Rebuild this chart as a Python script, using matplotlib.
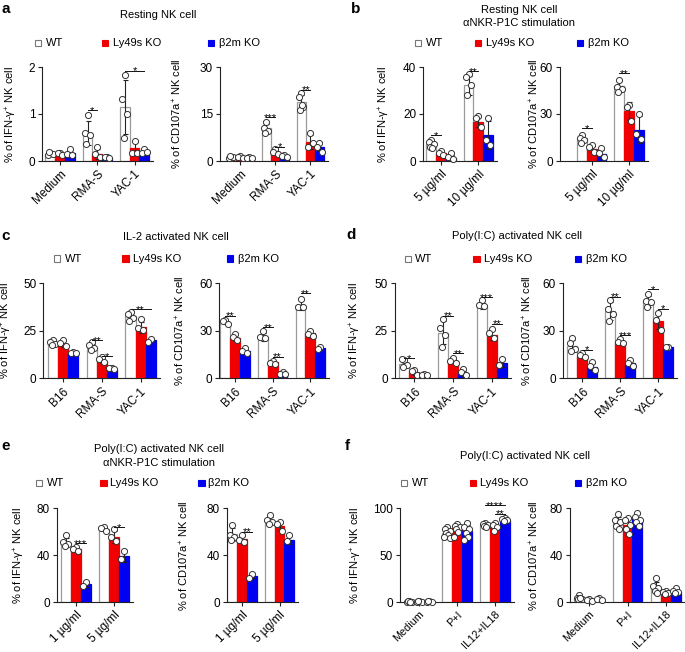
import numpy as np
import matplotlib
matplotlib.use("Agg")
import matplotlib.pyplot as plt
from matplotlib.patches import Rectangle

plt.rcParams['font.family'] = ['Liberation Sans', 'DejaVu Sans']
plt.rcParams['mathtext.fontset'] = 'custom'
plt.rcParams['mathtext.rm'] = 'Liberation Sans'
plt.rcParams['mathtext.it'] = 'Liberation Sans:italic'
plt.rcParams['mathtext.bf'] = 'Liberation Sans:bold'

# ---------------- data ----------------
series_names = ["WT", "Ly49s KO", "β2m KO"]
ylab_ifn = "% of IFN-γ$^{+}$ NK cell"
ylab_cd = "% of CD107a$^{+}$ NK cell"

# panel a (resting NK cell)
a_groups = ["Medium", "RMA-S", "YAC-1"]
a1_wt = [0.15, 0.60, 1.15]
a1_ly = [0.16, 0.15, 0.27]
a1_b2 = [0.16, 0.07, 0.20]
a1_wt_pts = [[0.17, 0.12, 0.15, 0.19], [0.97, 0.59, 0.55, 0.36], [1.84, 1.31, 1.00, 0.48]]
a1_ly_pts = [[0.18, 0.17, 0.13], [0.29, 0.15, 0.09], [0.42, 0.16, 0.18]]
a1_b2_pts = [[0.25, 0.15, 0.13], [0.09, 0.08, 0.07], [0.25, 0.18, 0.20]]
a1_sig = [(1, 0, 1, 1.08, "*"), (2, 0, 2, 1.92, "*")]

a2_wt = [1.0, 10.4, 18.8]
a2_ly = [1.2, 3.0, 6.1]
a2_b2 = [1.0, 1.6, 4.6]
a2_wt_pts = [[0.8, 1.0, 1.3, 1.5], [12.5, 10.6, 9.5, 9.0], [21.7, 20.5, 17.3, 16.4, 18.0]]
a2_ly_pts = [[1.5, 1.2, 0.9], [3.7, 3.0, 2.2], [8.8, 4.6, 5.6]]
a2_b2_pts = [[1.3, 1.0, 0.8], [1.9, 1.6, 1.4], [5.6, 4.6, 3.0]]
a2_sig = [(1, 0, 1, 13.9, "***"), (1, 1, 2, 4.6, "*"), (2, 0, 1, 22.8, "**")]

# panel b (resting NK, aNKR-P1C)
b_groups = ["5 µg/ml", "10 µg/ml"]
b1_wt = [7.2, 32.2]
b1_ly = [3.5, 16.7]
b1_b2 = [1.1, 11.0]
b1_wt_pts = [[8.9, 8.2, 7.2, 6.1, 5.4], [37.2, 35.8, 32.2, 28.0]]
b1_ly_pts = [[4.2, 3.5, 2.4], [19.1, 18.1, 14.6]]
b1_b2_pts = [[3.3, 1.8, 0.7], [18.1, 8.9, 6.6]]
b1_sig = [(0, 0, 1, 11.0, "*"), (1, 0, 1, 38.3, "**")]

b2_wt = [14.4, 47.7]
b2_ly = [7.6, 31.8]
b2_b2 = [4.4, 20.0]
b2_wt_pts = [[16.5, 14.8, 13.3, 11.2], [52.0, 47.0, 46.0, 44.0]]
b2_ly_pts = [[10.0, 9.0, 6.0], [36.0, 34.5, 25.6]]
b2_b2_pts = [[8.0, 4.9, 2.8], [30.0, 17.0, 14.0]]
b2_sig = [(0, 0, 1, 20.8, "*"), (1, 0, 1, 56.0, "**")]

# panel c (IL-2 activated)
c_groups = ["B16", "RMA-S", "YAC-1"]
c1_wt = [18.5, 16.5, 33.0]
c1_ly = [18.0, 9.3, 26.8]
c1_b2 = [13.5, 5.0, 20.2]
c1_wt_pts = [[20.0, 19.0, 18.0, 17.5], [19.0, 17.5, 16.0, 15.0], [35.0, 34.0, 32.0, 30.0]]
c1_ly_pts = [[20.0, 18.5, 17.0], [11.0, 10.0, 8.5], [31.0, 26.3, 25.2]]
c1_b2_pts = [[14.0, 13.5, 13.2], [5.5, 5.2, 5.0], [20.5, 19.0]]
c1_sig = [(1, 0, 1, 20.0, "**"), (1, 1, 2, 11.7, "*"), (2, 0, 2, 36.3, "**")]

c2_wt = [35.8, 26.3, 46.3]
c2_ly = [25.3, 10.1, 28.8]
c2_b2 = [17.5, 3.1, 19.0]
c2_wt_pts = [[37.0, 36.0, 34.0], [30.0, 26.0, 25.5], [50.0, 45.0, 45.0]]
c2_ly_pts = [[28.0, 26.0, 24.0], [11.0, 9.5, 9.0], [30.0, 28.0, 27.0]]
c2_b2_pts = [[19.0, 17.0, 16.0], [4.0, 3.0, 2.5], [20.0, 18.5]]
c2_sig = [(0, 0, 1, 39.5, "**"), (1, 0, 1, 32.2, "**"), (1, 1, 2, 13.6, "**"), (2, 0, 1, 53.7, "**")]

# panel d (Poly(I:C) activated)
d_groups = ["B16", "RMA-S", "YAC-1"]
d1_wt = [7.6, 24.1, 38.0]
d1_ly = [3.2, 9.1, 22.8]
d1_b2 = [2.1, 2.6, 8.2]
d1_wt_pts = [[9.6, 9.9, 7.0, 6.0], [31.0, 26.3, 22.8, 16.3], [41.0, 38.6, 38.0]]
d1_ly_pts = [[4.4, 3.7, 2.0], [10.5, 9.3, 8.0], [25.8, 24.0, 21.0]]
d1_b2_pts = [[2.3, 2.0, 1.6], [5.0, 3.5, 2.0], [10.4, 7.1]]
d1_sig = [(0, 0, 1, 10.5, "*"), (1, 0, 1, 33.0, "**"), (1, 1, 2, 13.2, "**"),
          (2, 0, 1, 42.6, "***"), (2, 1, 2, 28.6, "**")]

d2_wt = [20.4, 42.5, 48.8]
d2_ly = [14.1, 23.1, 36.4]
d2_b2 = [7.4, 9.5, 19.6]
d2_wt_pts = [[25.7, 22.0, 18.3, 17.0], [49.5, 43.6, 40.6, 36.4], [53.2, 49.0, 47.9, 44.8]]
d2_ly_pts = [[16.0, 15.0, 13.5], [24.7, 23.0, 22.0], [41.0, 36.6, 30.7]]
d2_b2_pts = [[10.0, 7.7, 5.5], [11.4, 9.5, 8.0], [19.6, 19.6]]
d2_sig = [(0, 1, 2, 17.9, "*"), (1, 0, 1, 51.6, "**"), (1, 1, 2, 27.3, "***"),
          (2, 0, 1, 56.2, "*"), (2, 1, 2, 43.8, "*")]

# panel e (Poly(I:C) activated, aNKR-P1C)
e_groups = ["1 µg/ml", "5 µg/ml"]
e1_wt = [50.8, 62.4]
e1_ly = [45.4, 55.9]
e1_b2 = [15.6, 39.4]
e1_wt_pts = [[57.0, 51.0, 50.0, 48.0], [64.0, 63.0, 61.0]]
e1_ly_pts = [[47.0, 45.0, 44.0], [62.0, 56.0, 52.0]]
e1_b2_pts = [[17.5, 14.0], [44.0, 37.0]]
e1_sig = [(0, 1, 2, 50.2, "***"), (1, 1, 2, 63.8, "*")]

e2_wt = [58.0, 69.5]
e2_ly = [53.6, 65.2]
e2_b2 = [22.4, 53.0]
e2_wt_pts = [[66.0, 57.0, 56.0, 53.0], [74.0, 70.0, 68.0, 67.0]]
e2_ly_pts = [[57.0, 53.0, 51.0], [68.0, 67.0, 61.0]]
e2_b2_pts = [[24.0, 21.0], [57.0, 52.0]]
e2_sig = [(0, 1, 2, 60.0, "**")]

# panel f (Poly(I:C) activated, cytokines)
f_groups = ["Medium", "P+I", "IL12+IL18"]
f1_wt = [0.8, 74.0, 82.2]
f1_ly = [0.8, 78.7, 79.8]
f1_b2 = [0.8, 76.0, 88.0]
f1_wt_pts = [[1.2, 0.8, 0.6, 0.9, 0.7], [80.0, 78.0, 76.0, 74.0, 72.0, 70.0, 68.0], [84.0, 83.0, 82.0, 81.0, 80.0]]
f1_ly_pts = [[1.0, 0.7, 0.8, 0.9], [83.0, 81.0, 80.0, 78.0, 75.0, 70.0], [84.0, 82.0, 80.0, 76.0]]
f1_b2_pts = [[1.0, 0.8, 0.6, 0.9], [84.0, 80.0, 78.0, 74.0, 70.0, 66.0], [90.0, 89.0, 88.0, 87.0]]
f1_sig = [(2, 0, 2, 103.5, "****"), (2, 1, 2, 94.0, "**")]

f2_wt = [4.0, 67.8, 12.0]
f2_ly = [2.0, 65.8, 7.5]
f2_b2 = [2.8, 71.0, 8.5]
f2_wt_pts = [[6.0, 4.0, 3.0, 2.5, 3.5], [75.0, 70.0, 68.0, 65.0, 62.0], [21.0, 14.0, 12.0, 10.0, 8.0]]
f2_ly_pts = [[3.0, 2.0, 1.5], [72.0, 70.0, 66.0, 62.0, 58.0], [10.0, 9.0, 8.0, 7.0]]
f2_b2_pts = [[4.0, 3.0, 2.0], [76.0, 73.0, 70.0, 68.0, 65.0], [12.0, 10.0, 9.0, 8.0]]
f2_sig = []

# ---------------- drawing ----------------
W, H = 685, 652
FS = 8
TFS = 8.5
fig = plt.figure(figsize=(W / 100, H / 100), dpi=100)

WT_FACE, WT_EDGE = "white", "#9a9a9a"
RED, BLUE = "#f00000", "#0000f0"
AXC = "#222222"
JITTER = [0.0, -0.065, 0.065, -0.03, 0.03, -0.085, 0.085]


def fx(x):
    return x / W


def fy(y):
    return 1 - y / H


def panel(x_axis, first_center, spacing, ytop, ybot, groups, top, ticks, ylabel, ylabel_x,
          wt, ly, b2, wt_pts, ly_pts, b2_pts, sig, xtfs=TFS):
    n = len(groups)
    left_u = (first_center - x_axis) / spacing
    right_u = 0.5
    width = (left_u + n - 1 + right_u) * spacing
    ax = fig.add_axes([fx(x_axis), fy(ybot), width / W, (ybot - ytop) / H])
    ax.set_xlim(-left_u, n - 1 + right_u)
    ax.set_ylim(0, top)
    bw = 0.26
    x = np.arange(n)
    series = [(wt, wt_pts, WT_FACE, WT_EDGE), (ly, ly_pts, RED, RED), (b2, b2_pts, BLUE, BLUE)]
    for k, (means, pts, fc, ec) in enumerate(series):
        xs = x + (k - 1) * bw
        ax.bar(xs, means, width=bw, color=fc, edgecolor=ec, linewidth=0.9, zorder=1)
        sds = [np.std(p, ddof=1) if len(p) > 1 else 0 for p in pts]
        ax.errorbar(xs, means, yerr=sds, fmt="none", ecolor="#222", elinewidth=0.8,
                    capsize=1.8, capthick=0.8, zorder=2, clip_on=False)
        for xi, p in zip(xs, pts):
            m = len(p)
            off = np.array(JITTER[:m]) if m > 1 else np.zeros(1)
            ax.plot(xi + off, p, "o", ms=4.4, mfc="white", mec="#333", mew=0.7,
                    zorder=3, clip_on=False)
    for g, i, j, yv, lab in sig:
        x1 = g + (i - 1) * bw
        x2 = g + (j - 1) * bw
        ax.plot([x1, x2], [yv, yv], color="#111", lw=0.7, clip_on=False, zorder=4)
        ax.annotate(lab, ((x1 + x2) / 2, yv), xytext=(0, -2.6), textcoords="offset points",
                    ha="center", va="baseline", fontsize=FS, annotation_clip=False)
    ax.set_xticks(x)
    ax.set_xticklabels(groups, rotation=45, ha="right", va="top", rotation_mode="anchor",
                       fontsize=xtfs)
    ax.set_yticks(ticks)
    ax.set_yticklabels([str(t) for t in ticks], fontsize=TFS)
    for s in ["top", "right"]:
        ax.spines[s].set_visible(False)
    for s in ["left", "bottom"]:
        ax.spines[s].set_color(AXC)
        ax.spines[s].set_linewidth(0.8)
    ax.tick_params(axis="both", length=3, width=0.8, color=AXC, pad=2)
    ax.set_ylabel(ylabel, fontsize=FS)
    ax.yaxis.set_label_coords((ylabel_x + 5 - x_axis) / width, 0.5)
    return ax


def legend(y, xs_sq):
    labels = series_names
    faces = [WT_FACE, RED, BLUE]
    edges = ["#777777", RED, BLUE]
    s = 6.5
    for (xc, xt), lab, fc, ec in zip(xs_sq, labels, faces, edges):
        fig.add_artist(Rectangle((fx(xc - s / 2), fy(y + s / 2)), s / W, s / H,
                                 transform=fig.transFigure, facecolor=fc, edgecolor=ec, lw=0.8))
        fig.text(fx(xt), fy(y), lab, fontsize=FS, ha="left", va="center")


def title(x, y, txt):
    fig.text(fx(x), fy(y), txt, fontsize=FS, ha="center", va="center")


def letter(x, y, txt):
    fig.text(fx(x), fy(y), txt, fontsize=11, fontweight="bold", ha="left", va="center")


# panel a
letter(1, 9, "a")
title(158, 15, "Resting NK cell")
legend(43, [(38, 46), (105, 113), (211, 219)])
panel(42.3, 60, 37.3, 67, 161, a_groups, 2, [0, 1, 2], ylab_ifn, 14,
      a1_wt, a1_ly, a1_b2, a1_wt_pts, a1_ly_pts, a1_b2_pts, a1_sig)
panel(220, 240.3, 35, 67, 161, a_groups, 30, [0, 15, 30], ylab_cd, 179,
      a2_wt, a2_ly, a2_b2, a2_wt_pts, a2_ly_pts, a2_b2_pts, a2_sig)

# panel b
letter(351, 9, "b")
title(519, 10, "Resting NK cell")
title(519, 23.5, "αNKR-P1C stimulation")
legend(43, [(418, 426), (478, 486), (580, 588)])
panel(423.3, 441, 37.3, 67, 161, b_groups, 40, [0, 20, 40], ylab_ifn, 387,
      b1_wt, b1_ly, b1_b2, b1_wt_pts, b1_ly_pts, b1_b2_pts, b1_sig)
panel(560, 591.7, 37.3, 67, 161, b_groups, 60, [0, 30, 60], ylab_cd, 536,
      b2_wt, b2_ly, b2_b2, b2_wt_pts, b2_ly_pts, b2_b2_pts, b2_sig)

# panel c
letter(1, 236, "c")
title(176, 237, "IL-2 activated NK cell")
legend(258.5, [(57, 65), (125.5, 133), (230, 237.5)])
panel(43.3, 63, 38.8, 283.3, 378.3, c_groups, 50, [0, 25, 50], ylab_ifn, 9,
      c1_wt, c1_ly, c1_b2, c1_wt_pts, c1_ly_pts, c1_b2_pts, c1_sig)
panel(219.3, 235, 37.7, 283.3, 378.3, c_groups, 60, [0, 30, 60], ylab_cd, 182,
      c2_wt, c2_ly, c2_b2, c2_wt_pts, c2_ly_pts, c2_b2_pts, c2_sig)

# panel d
letter(346, 235, "d")
title(517, 236, "Poly(I:C) activated NK cell")
legend(259, [(408, 415), (476.5, 484), (578, 586)])
panel(395, 414.3, 38.7, 283.3, 378.3, d_groups, 50, [0, 25, 50], ylab_ifn, 358,
      d1_wt, d1_ly, d1_b2, d1_wt_pts, d1_ly_pts, d1_b2_pts, d1_sig)
panel(562.7, 582.2, 38, 283.3, 378.3, d_groups, 60, [0, 30, 60], ylab_cd, 529,
      d2_wt, d2_ly, d2_b2, d2_wt_pts, d2_ly_pts, d2_b2_pts, d2_sig)

# panel e
letter(1, 446, "e")
title(159, 448.5, "Poly(I:C) activated NK cell")
title(159, 462.5, "αNKR-P1C stimulation")
legend(483, [(39, 46.5), (103.5, 110.5), (201.5, 208.5)])
panel(56.7, 75.8, 38, 508.3, 602.3, e_groups, 80, [0, 40, 80], ylab_ifn, 22,
      e1_wt, e1_ly, e1_b2, e1_wt_pts, e1_ly_pts, e1_b2_pts, e1_sig)
panel(226.7, 241.8, 37.7, 508.3, 602.3, e_groups, 80, [0, 40, 80], ylab_cd, 186,
      e2_wt, e2_ly, e2_b2, e2_wt_pts, e2_ly_pts, e2_b2_pts, e2_sig)

# panel f
letter(345, 446, "f")
title(525, 456, "Poly(I:C) activated NK cell")
legend(483, [(404, 412), (473, 480.5), (578, 586)])
panel(400, 419.2, 37.9, 508.3, 602.3, f_groups, 100, [0, 50, 100], ylab_ifn, 359,
      f1_wt, f1_ly, f1_b2, f1_wt_pts, f1_ly_pts, f1_b2_pts, f1_sig, xtfs=7.8)
panel(570, 589.2, 38.3, 508.3, 602.3, f_groups, 80, [0, 40, 80], ylab_cd, 536,
      f2_wt, f2_ly, f2_b2, f2_wt_pts, f2_ly_pts, f2_b2_pts, f2_sig, xtfs=7.8)

fig.savefig("out.png", dpi=100)
